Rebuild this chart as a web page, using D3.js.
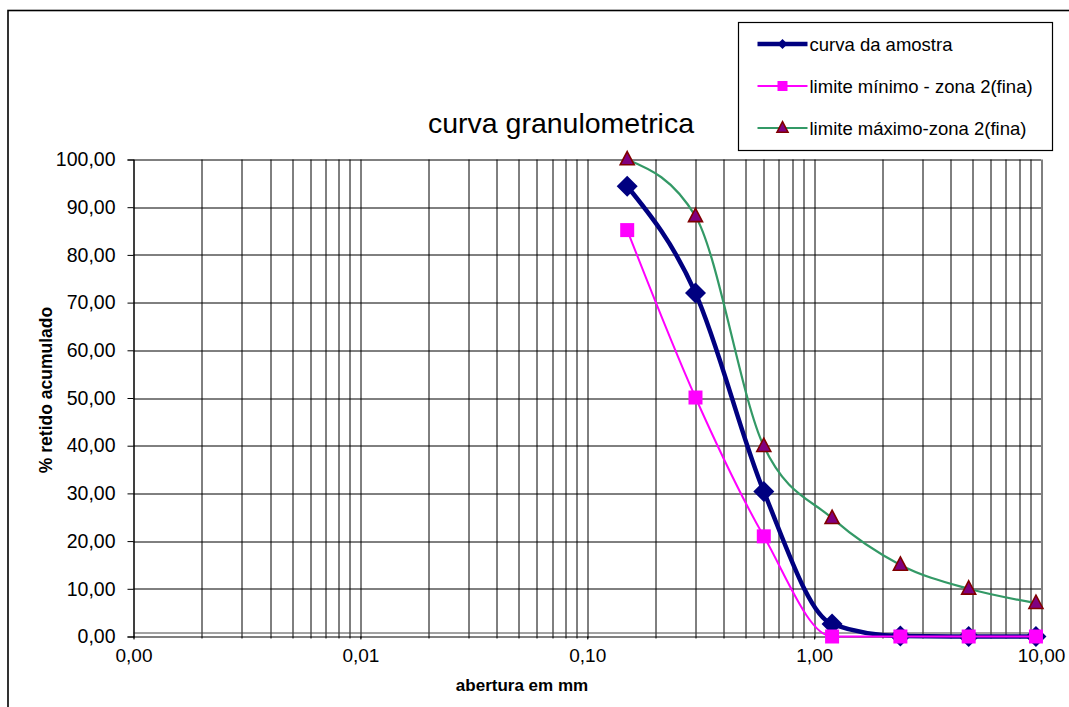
<!DOCTYPE html>
<html>
<head>
<meta charset="utf-8">
<script src="https://cdn.jsdelivr.net/npm/d3@7"></script>
<style>
  body { margin: 0; background: #fff; }
  text { font-family: "Liberation Sans", Arial, sans-serif; fill: #000; }
</style>
</head>
<body>
<div id="chart"></div>
<script>
// dados
const aberturas = [0.15, 0.3, 0.6, 1.2, 2.4, 4.8, 9.5];
const curvaAmostra = [94.4, 72.0, 30.4, 2.6, 0.1, 0.0, 0.0];
const limiteMinimo = [85.2, 50.1, 21.0, 0, 0, 0, 0];
const limiteMaximo = [100, 88.1, 39.9, 24.8, 15.0, 10.0, 7.0];
const nomesSeries = ["curva da amostra", "limite mínimo - zona 2(fina)", "limite máximo-zona 2(fina)"];
const yTicks = [0, 10, 20, 30, 40, 50, 60, 70, 80, 90, 100];
const xTicks = [0.001, 0.01, 0.1, 1, 10];

const width = 1069, height = 707;
const margin = {top: 159.5, right: 28, bottom: 70.5, left: 133.5};
const plotW = width - margin.left - margin.right;
const plotH = height - margin.top - margin.bottom;

const ptBR = d3.formatLocale({decimal: ",", thousands: ".", grouping: [3], currency: ["", ""]});
const fmt = ptBR.format(".2f");

const svg = d3.select("#chart").append("svg")
    .attr("width", width)
    .attr("height", height);

// moldura do grafico
svg.append("rect")
    .attr("x", 8).attr("y", 10.5)
    .attr("width", width + 10).attr("height", height + 10)
    .attr("fill", "none").attr("stroke", "#000").attr("stroke-width", 1.6);

const g = svg.append("g").attr("transform", `translate(${margin.left},${margin.top})`);

const x = d3.scaleLog().domain([0.001, 10]).range([0, plotW]);
const y = d3.scaleLinear().domain([0, 100]).range([plotH, 0]);

// grade vertical (todas as subdivisoes log)
g.selectAll("line.vgrid").data(x.ticks())
    .enter().append("line")
    .attr("class", "vgrid")
    .attr("x1", d => Math.round(x(d)) + 0.5).attr("x2", d => Math.round(x(d)) + 0.5)
    .attr("y1", 0).attr("y2", plotH + 2)
    .attr("stroke", "#000").attr("stroke-width", 1);

// grade horizontal
g.selectAll("line.hgrid").data(yTicks)
    .enter().append("line")
    .attr("class", "hgrid")
    .attr("x1", 0).attr("x2", plotW)
    .attr("y1", d => Math.round(y(d)) + 0.5).attr("y2", d => Math.round(y(d)) + 0.5)
    .attr("stroke", "#000").attr("stroke-width", 1);

// linha dupla junto ao eixo x
g.append("line")
    .attr("x1", 0).attr("x2", plotW)
    .attr("y1", Math.round(y(0)) - 3.5).attr("y2", Math.round(y(0)) - 3.5)
    .attr("stroke", "#444").attr("stroke-width", 1);

// eixo y
const yAxis = g.append("g")
    .call(d3.axisLeft(y).tickValues(yTicks).tickFormat(fmt).tickSize(6).tickPadding(12));
yAxis.select(".domain").attr("stroke", "#000");
yAxis.selectAll("text").style("font-size", "19.5px").attr("font-family", "Liberation Sans, Arial, sans-serif");

// eixo x
const xAxis = g.append("g")
    .attr("transform", `translate(0,${plotH})`)
    .call(d3.axisBottom(x).tickValues(xTicks).tickFormat(fmt).tickSize(3).tickPadding(9));
xAxis.select(".domain").remove();
xAxis.selectAll("text").style("font-size", "19px").attr("font-family", "Liberation Sans, Arial, sans-serif");

// titulos
svg.append("text")
    .attr("x", 561).attr("y", 133)
    .attr("text-anchor", "middle")
    .style("font-size", "28.5px")
    .text("curva granulometrica");

svg.append("text")
    .attr("x", 522).attr("y", 691)
    .attr("text-anchor", "middle")
    .style("font-size", "17px").style("font-weight", "bold")
    .text("abertura em mm");

svg.append("text")
    .attr("transform", "translate(52,390) rotate(-90)")
    .attr("text-anchor", "middle")
    .style("font-size", "17.5px").style("font-weight", "bold")
    .text("% retido acumulado");

// simbolos
function diamond(r) { return `M0,${-r}L${r},0L0,${r}L${-r},0Z`; }
function square(s) { return `M${-s / 2},${-s / 2}h${s}v${s}h${-s}Z`; }
function triangle(s) { const h = s * 0.95; return `M0,${-h * 0.6}L${s / 2},${h * 0.4}L${-s / 2},${h * 0.4}Z`; }

const series = [
    {nome: nomesSeries[0], valores: curvaAmostra, cor: "#000080", largura: 4.5,
        simbolo: diamond(10.5), simboloLeg: diamond(5), fill: "#000080", stroke: "#000080", sw: 0},
    {nome: nomesSeries[1], valores: limiteMinimo, cor: "#FF00FF", largura: 2,
        simbolo: square(14), simboloLeg: square(10), fill: "#FF00FF", stroke: "#FF00FF", sw: 0},
    {nome: nomesSeries[2], valores: limiteMaximo, cor: "#339966", largura: 2.2,
        simbolo: triangle(14), simboloLeg: triangle(11), fill: "#800080", stroke: "#800000", sw: 1.6}
];

const line = d3.line()
    .x(d => x(d[0]))
    .y(d => y(d[1]))
    .curve(d3.curveMonotoneX);

series.forEach(s => {
    const pts = aberturas.map((a, i) => [a, s.valores[i]]);
    g.append("path")
        .datum(pts)
        .attr("d", line)
        .attr("fill", "none")
        .attr("stroke", s.cor)
        .attr("stroke-width", s.largura)
        .attr("stroke-linejoin", "round");
    g.selectAll(null).data(pts)
        .enter().append("path")
        .attr("transform", d => `translate(${x(d[0])},${y(d[1])})`)
        .attr("d", s.simbolo)
        .attr("fill", s.fill)
        .attr("stroke", s.stroke)
        .attr("stroke-width", s.sw);
});

// legenda
const leg = svg.append("g").attr("transform", "translate(738.5,22.5)");
leg.append("rect")
    .attr("width", 314).attr("height", 128)
    .attr("fill", "#fff").attr("stroke", "#000").attr("stroke-width", 1.2);
series.forEach((s, i) => {
    const cy = 21.5 + i * 42;
    leg.append("line")
        .attr("x1", 19).attr("x2", 69)
        .attr("y1", cy).attr("y2", cy)
        .attr("stroke", s.cor).attr("stroke-width", s.largura);
    leg.append("path")
        .attr("transform", `translate(44,${cy})`)
        .attr("d", s.simboloLeg)
        .attr("fill", s.fill).attr("stroke", s.stroke).attr("stroke-width", s.sw);
    leg.append("text")
        .attr("x", 71).attr("y", cy + 6.5)
        .style("font-size", "18.5px")
        .text(s.nome);
});
</script>
</body>
</html>
